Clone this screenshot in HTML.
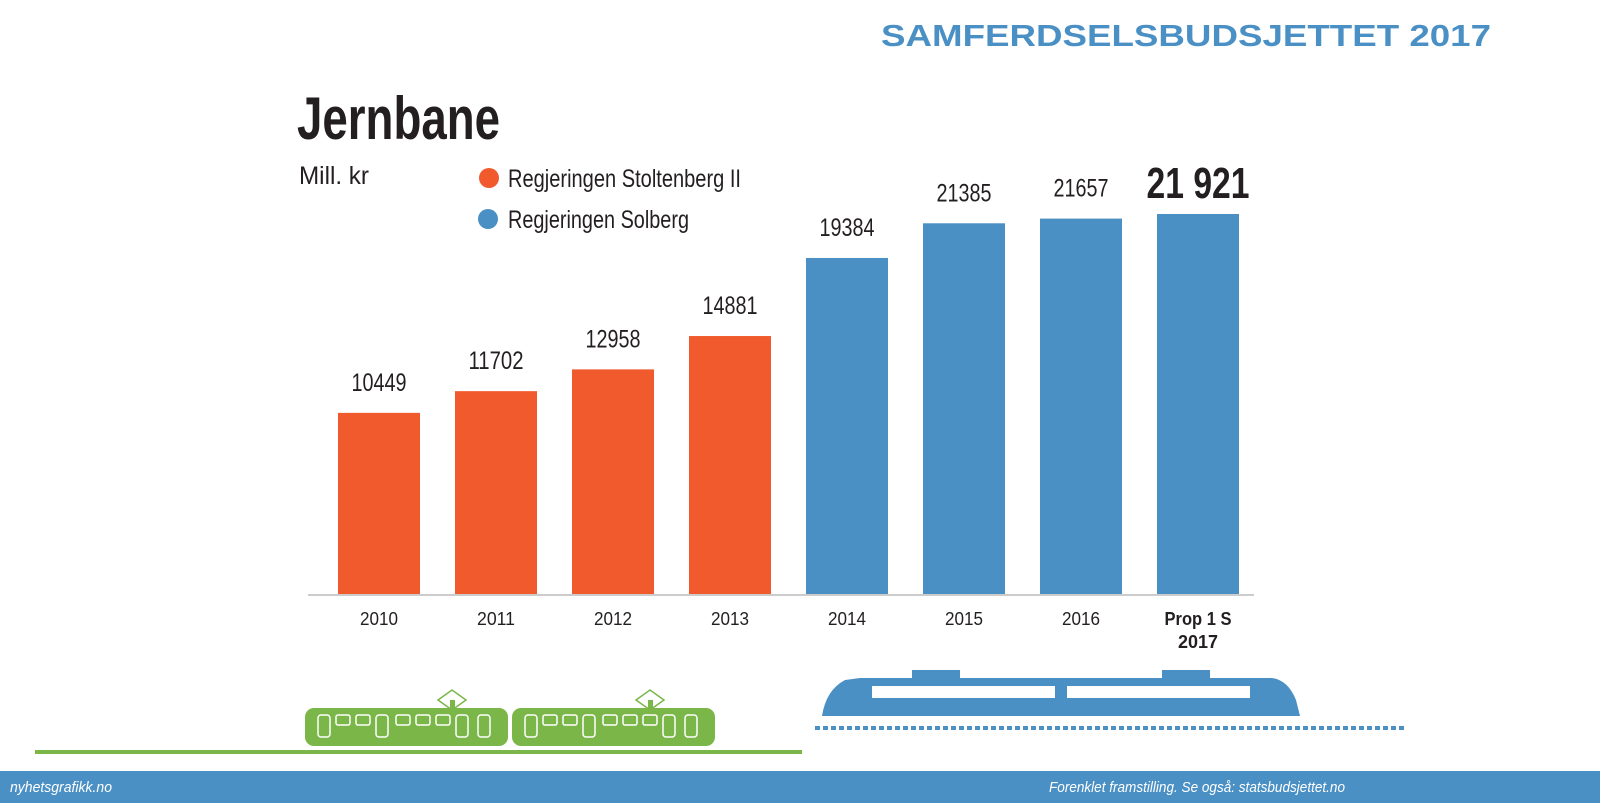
<!DOCTYPE html>
<html><head><meta charset="utf-8"><style>
html,body{margin:0;padding:0;background:#fff;}
svg{display:block;}
text{font-family:"Liberation Sans Narrow","Liberation Sans",sans-serif;}
</style></head><body>
<svg width="1600" height="803" viewBox="0 0 1600 803">
<text x="881" y="46" font-size="31" font-weight="bold" fill="#4a90c4" textLength="610" lengthAdjust="spacingAndGlyphs" style="font-family:'Liberation Sans',sans-serif">SAMFERDSELSBUDSJETTET 2017</text>
<text x="297" y="139" font-size="60" font-weight="bold" fill="#231f20" textLength="203" lengthAdjust="spacingAndGlyphs">Jernbane</text>
<text x="299" y="184" font-size="25" fill="#231f20" textLength="70" lengthAdjust="spacingAndGlyphs">Mill. kr</text>
<g>
<circle cx="489" cy="178" r="10" fill="#f05a2d"/>
<text x="508" y="187" font-size="25" fill="#231f20" textLength="233" lengthAdjust="spacingAndGlyphs">Regjeringen Stoltenberg II</text>
<circle cx="488" cy="219" r="10" fill="#4a90c4"/>
<text x="508" y="228" font-size="25" fill="#231f20" textLength="181" lengthAdjust="spacingAndGlyphs">Regjeringen Solberg</text>
</g>
<g id="bars"></g>
<g fill="#7ab648">
<rect x="35" y="750" width="767" height="4"/>
<g>
<rect x="305" y="708" width="203" height="38" rx="9"/>
<path d="M438 700 l14 -10 l14 10 l-14 10z" fill="none" stroke="#7ab648" stroke-width="1.5"/>
<rect x="450" y="700" width="5" height="9"/>
<g fill="none" stroke="#fff" stroke-width="1.5"><rect x="318" y="715" width="12" height="22" rx="3"/><rect x="336" y="715" width="14" height="10" rx="2"/><rect x="356" y="715" width="14" height="10" rx="2"/><rect x="376" y="715" width="12" height="22" rx="3"/><rect x="396" y="715" width="14" height="10" rx="2"/><rect x="416" y="715" width="14" height="10" rx="2"/><rect x="436" y="715" width="14" height="10" rx="2"/><rect x="456" y="715" width="12" height="22" rx="3"/><rect x="478" y="715" width="12" height="22" rx="3"/></g>
</g>
<g>
<rect x="512" y="708" width="203" height="38" rx="9"/>
<path d="M636 700 l14 -10 l14 10 l-14 10z" fill="none" stroke="#7ab648" stroke-width="1.5"/>
<rect x="648" y="700" width="5" height="9"/>
<g fill="none" stroke="#fff" stroke-width="1.5"><rect x="525" y="715" width="12" height="22" rx="3"/><rect x="543" y="715" width="14" height="10" rx="2"/><rect x="563" y="715" width="14" height="10" rx="2"/><rect x="583" y="715" width="12" height="22" rx="3"/><rect x="603" y="715" width="14" height="10" rx="2"/><rect x="623" y="715" width="14" height="10" rx="2"/><rect x="643" y="715" width="14" height="10" rx="2"/><rect x="663" y="715" width="12" height="22" rx="3"/><rect x="685" y="715" width="12" height="22" rx="3"/></g>
</g>
</g>
<g fill="#4a90c4">
<path d="M860 678 L1272 678 Q1288 680 1296 700 L1300 716 L822 716 Q826 690 845 680 Z"/>
<rect x="912" y="670" width="48" height="10"/><rect x="1162" y="670" width="48" height="10"/>
<rect x="872" y="686" width="183" height="12" fill="#fff"/><rect x="1067" y="686" width="183" height="12" fill="#fff"/>
<line x1="815" y1="728" x2="1405" y2="728" stroke="#4a90c4" stroke-width="4" stroke-dasharray="5 3"/>
</g>
<rect x="0" y="771" width="1600" height="32" fill="#4a90c4"/>
<text x="10" y="792" font-size="15" font-style="italic" fill="#fff" style="font-family:'Liberation Sans',sans-serif" textLength="102" lengthAdjust="spacingAndGlyphs">nyhetsgrafikk.no</text>
<text x="1049" y="792" font-size="15" font-style="italic" fill="#fff" style="font-family:'Liberation Sans',sans-serif" textLength="296" lengthAdjust="spacingAndGlyphs">Forenklet framstilling. Se også: statsbudsjettet.no</text>
</svg>
<script>
const categories=["2010","2011","2012","2013","2014","2015","2016","Prop 1 S|2017"];
const values=[10449,11702,12958,14881,19384,21385,21657,21921];
const valueLabels=["10449","11702","12958","14881","19384","21385","21657","21 921"];
const governments=["stoltenberg","stoltenberg","stoltenberg","stoltenberg","solberg","solberg","solberg","solberg"];
const NS="http://www.w3.org/2000/svg";
const g=document.getElementById('bars');
const baseY=594,pxPer=380/21921,x0=338,step=117,bw=82;
function y(v){return baseY-v*pxPer;}
function x(i){return x0+i*step;}
function mk(t,a){const e=document.createElementNS(NS,t);for(const k in a)e.setAttribute(k,a[k]);g.appendChild(e);return e;}
const axis=mk('line',{x1:308,y1:baseY+1,x2:1254,y2:baseY+1,stroke:'#999','stroke-width':1});


values.forEach((v,i)=>{
 const r=mk('rect',{x:x(i),y:y(v),width:bw,height:baseY-y(v),fill:governments[i]==='solberg'?'#4a90c4':'#f05a2d'});
 
 
 const last=i===values.length-1;
 const t=mk('text',{x:x(i)+bw/2,y:last?y(v)-16:y(v)-22,'text-anchor':'middle','font-size':last?44:25,'font-weight':last?'bold':'normal',fill:'#231f20',textLength:last?103:55,lengthAdjust:'spacingAndGlyphs'});
 t.textContent=valueLabels[i];
 
 
 categories[i].split('|').forEach((line,j)=>{
  const c=mk('text',{x:x(i)+bw/2,y:625+j*23,'text-anchor':'middle','font-size':18,'font-weight':last?'bold':'normal',fill:'#231f20',textLength:line.length>4?67:(last?40:38),lengthAdjust:'spacingAndGlyphs'});
  c.textContent=line;
  
  
 });
});
</script>
</body></html>
